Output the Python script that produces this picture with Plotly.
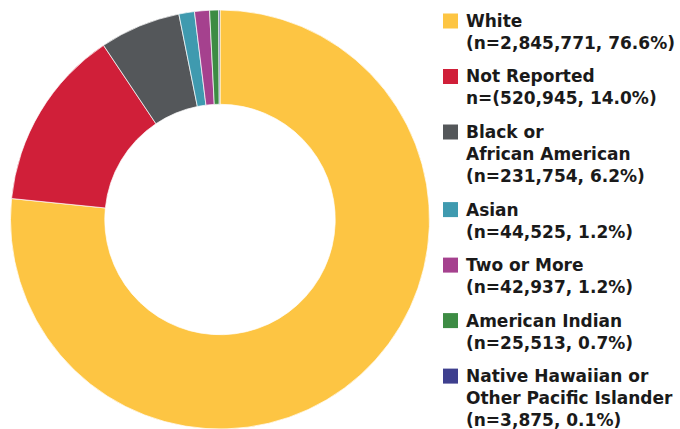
import plotly.graph_objects as go

# Race / ethnicity breakdown
groups = [
    "White",
    "Not Reported",
    "Black or African American",
    "Asian",
    "Two or More",
    "American Indian",
    "Native Hawaiian or Other Pacific Islander",
]
counts = [2845771, 520945, 231754, 44525, 42937, 25513, 3875]
legend_labels = [
    "White<br>(n=2,845,771, 76.6%)",
    "Not Reported<br>n=(520,945, 14.0%)",
    "Black or<br>African American<br>(n=231,754, 6.2%)",
    "Asian<br>(n=44,525, 1.2%)",
    "Two or More<br>(n=42,937, 1.2%)",
    "American Indian<br>(n=25,513, 0.7%)",
    "Native Hawaiian or<br>Other Pacific Islander<br>(n=3,875, 0.1%)",
]
colors = ["#FDC543", "#D01F39", "#54575A", "#3F9AAF", "#A5418E", "#3D8C44", "#3E3F8E"]

W, H = 680, 429
FONT = dict(family="DejaVu Sans", size=17, color="#1a1a1a")
LINE_PX = 1.3 * FONT["size"]   # plotly's multi-line spacing
ITEM_GAP = 11.3                # extra space between legend entries
SWATCH = 15

fig = go.Figure(
    go.Pie(
        labels=groups,
        values=counts,
        hovertemplate="%{label}: %{value:,}<extra></extra>",
        hole=0.55,
        sort=False,
        direction="clockwise",
        rotation=0,
        textinfo="none",
        marker=dict(colors=colors, line=dict(color="#ffffff", width=0.7)),
        domain=dict(x=[10 / W, 430 / W], y=[0, 419 / H]),
        showlegend=False,
    )
)

# Hand-built legend: swatch aligned with the first line of each label
def px_x(x):
    return x / W


def px_y(y):
    return 1 - y / H


shapes, annotations = [], []
first_line_y = 21.0
for label, color in zip(legend_labels, colors):
    n_lines = label.count("<br>") + 1
    shapes.append(dict(
        type="rect", xref="paper", yref="paper",
        x0=px_x(443), x1=px_x(443 + SWATCH),
        y0=px_y(first_line_y - SWATCH / 2), y1=px_y(first_line_y + SWATCH / 2),
        fillcolor=color, line=dict(width=0),
    ))
    annotations.append(dict(
        xref="paper", yref="paper",
        x=px_x(464), y=px_y(first_line_y - LINE_PX / 2 - 1),
        xanchor="left", yanchor="top", align="left",
        text=label, showarrow=False,
        font=dict(FONT, weight="bold"),
    ))
    first_line_y += n_lines * LINE_PX + ITEM_GAP

fig.update_layout(
    width=W,
    height=H,
    margin=dict(l=0, r=0, t=0, b=0),
    paper_bgcolor="#ffffff",
    plot_bgcolor="#ffffff",
    shapes=shapes,
    annotations=annotations,
)

fig.write_html("out.html")
